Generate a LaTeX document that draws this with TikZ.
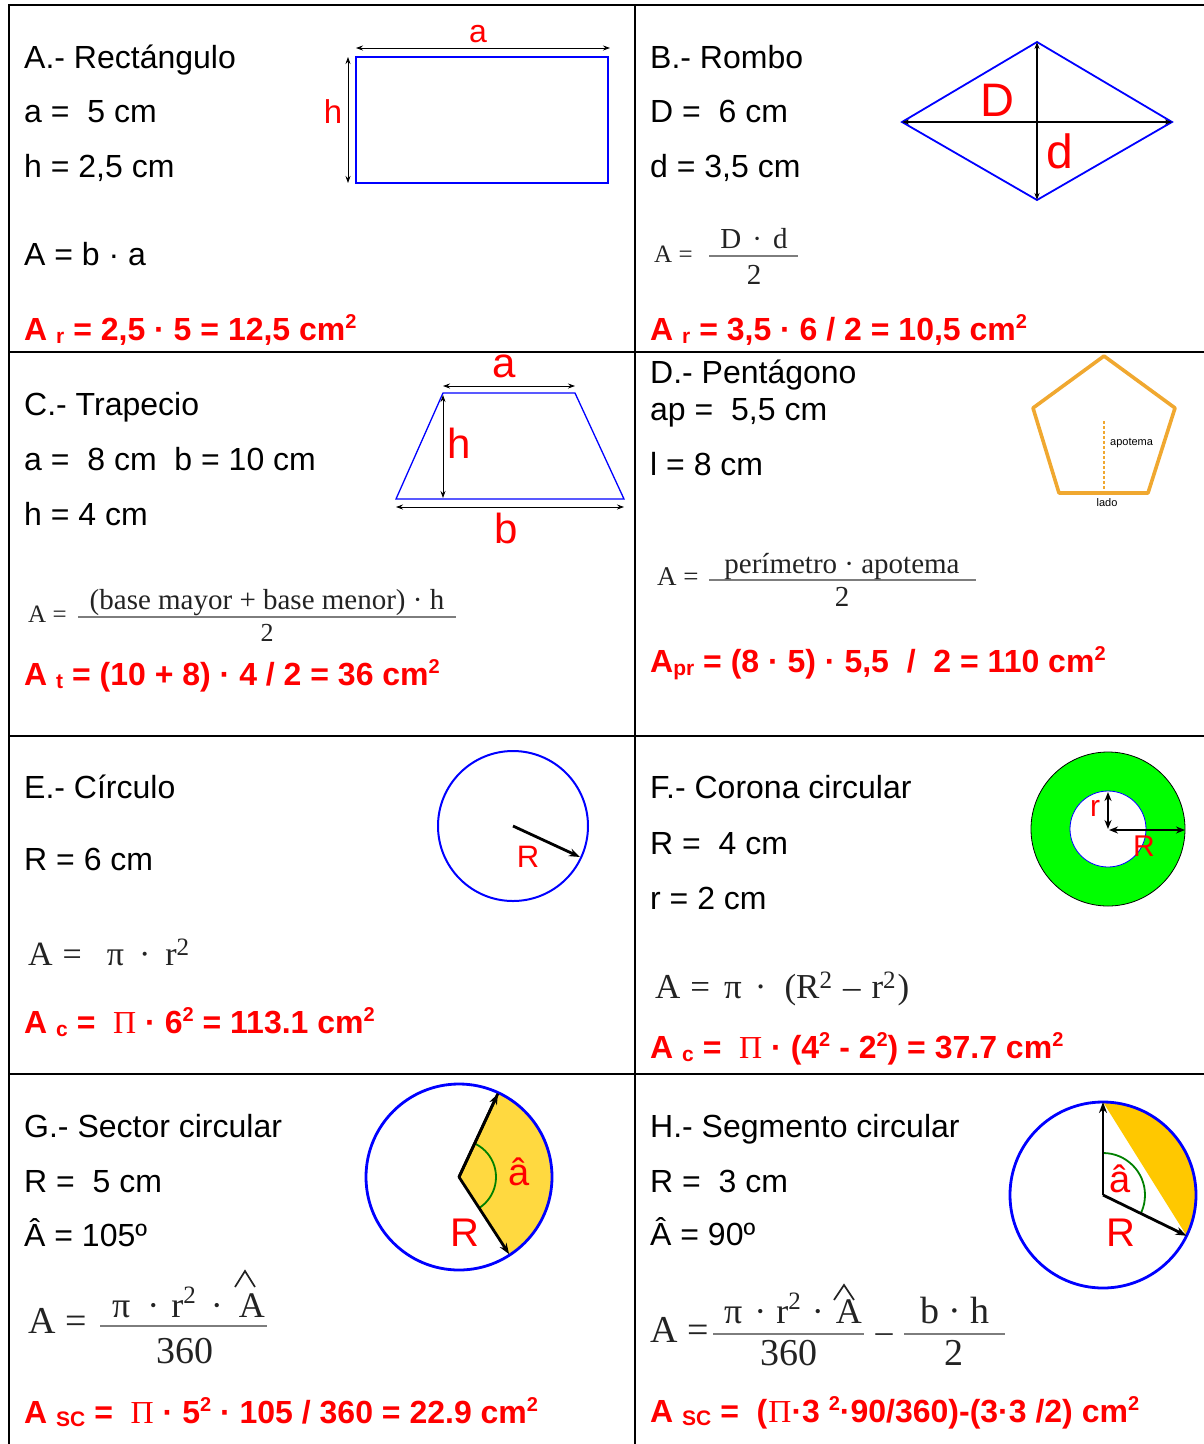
\documentclass[tikz,border=0pt]{standalone}
\usepackage{fontspec}
\setmainfont{Liberation Sans}
\newfontfamily\serifrm{Liberation Serif}
\usetikzlibrary{arrows.meta,calc}
\definecolor{cblue}{RGB}{0,0,255}
\definecolor{cred}{RGB}{255,0,0}
\definecolor{corange}{RGB}{240,168,48}
\definecolor{cyelG}{RGB}{255,217,64}
\definecolor{cyelH}{RGB}{255,200,0}
\definecolor{cgreen}{RGB}{0,255,0}
\definecolor{carc}{RGB}{0,128,0}
\definecolor{cbar}{RGB}{125,125,125}
\definecolor{cform}{RGB}{35,35,35}
\newcommand\fsz[1]{\fontsize{#1}{#1}\selectfont}
\newcommand\mysub[1]{\raisebox{-3pt}{\fsz{21}#1}}
\newcommand\mysup[1]{\raisebox{12pt}{\fsz{20}#1}}
\newcommand\fsup[2]{\raisebox{#1}{\fsz{25}#2}}
\tikzset{
  body/.style={anchor=base west, inner sep=0pt, font=\fsz{32}},
  res/.style={anchor=base west, inner sep=0pt, text=cred, font=\bfseries\fsz{32}},
  fml/.style={inner sep=0pt, text=cform, font=\serifrm\fsz{27}},
  lbl/.style={inner sep=0pt, text=cred},
  dim/.style={{Stealth[length=7pt,width=5pt]}-{Stealth[length=7pt,width=5pt]}, line width=0.8pt},
  dimthick/.style={{Stealth[length=9pt,width=7pt]}-{Stealth[length=9pt,width=7pt]}, line width=2pt},
  ray/.style={-{Stealth[length=11pt,width=8pt]}, line width=2.8pt},
  gridline/.style={line width=2.5pt},
  fbar/.style={line width=1.8pt, cbar},
}
\begin{document}
\begin{tikzpicture}[x=1pt,y=-1pt]
\useasboundingbox (0,0) rectangle (1204,1444);
% ---------- grid ----------
\coordinate (g1) at (9,5);   \coordinate (g2) at (1204,5);
\coordinate (g3) at (9,1444); \coordinate (g4) at (635,5); \coordinate (g5) at (635,1444);
\coordinate (h1a) at (9,352);  \coordinate (h1b) at (1204,352);
\coordinate (h2a) at (9,736);  \coordinate (h2b) at (1204,736);
\coordinate (h3a) at (9,1074); \coordinate (h3b) at (1204,1074);
\draw[gridline] (g3) -- (g1) -- (g2);
\draw[gridline] (g4) -- (g5);
\draw[gridline] (h1a) -- (h1b);
\draw[gridline] (h2a) -- (h2b);
\draw[gridline] (h3a) -- (h3b);

% ---------- A: Rectangulo ----------
\node[body] (At) at (24,68) {A.- Rectángulo};
\node[body] (Aa) at (24,122) {a = \ 5 cm};
\node[body] (Ah) at (24,177) {h = 2,5 cm};
\node[body] (Af) at (24,265) {A = b · a};
\node[res]  (Ar) at (24,340) {A \mysub{r} = 2,5 · 5 = 12,5 cm\mysup{2}};
\node[draw=cblue, line width=1.3pt, minimum width=252pt, minimum height=126pt, inner sep=0pt] (rect) at (482,120) {};
\coordinate (Aa1) at (356,48); \coordinate (Aa2) at (610,48);
\draw[dim] (Aa1) -- (Aa2);
\coordinate (Ah1) at (348,57); \coordinate (Ah2) at (348,183);
\draw[dim] (Ah1) -- (Ah2);
\node[lbl, font=\fsz{32}] (Ala) at (478,34) {a};
\node[lbl, font=\fsz{33}] (Alh) at (333,112) {h};

% ---------- B: Rombo ----------
\node[body] (Bt) at (650,68) {B.- Rombo};
\node[body] (Bd1) at (650,122) {D = \ 6 cm};
\node[body] (Bd2) at (650,177) {d = 3,5 cm};
\node[fml, anchor=base west, font=\serifrm\fsz{25}] (BA) at (654,262) {A =};
\coordinate (Bb1) at (709,256); \coordinate (Bb2) at (798,256);
\draw[fbar] (Bb1) -- (Bb2);
\node[fml, anchor=base, font=\serifrm\fsz{29}] (Bn) at (754,248) {D\hspace{11pt}·\hspace{11pt}d};
\node[fml, anchor=base, font=\serifrm\fsz{29}] (Bdn) at (754,284) {2};
\node[res] (Br) at (650,340) {A \mysub{r} = 3,5 · 6 / 2 = 10,5 cm\mysup{2}};
\coordinate (BL) at (902,122); \coordinate (BT) at (1037,42);
\coordinate (BR) at (1172,122); \coordinate (BB) at (1037,200);
\draw[cblue, line width=1.8pt] (BL) -- (BT) -- (BR) -- (BB) -- cycle;
\draw[dim, line width=1.1pt] (BL) -- (BR);
\draw[dim, line width=1.1pt] (BT) -- (BB);
\node[lbl, font=\fsz{47}] (BlD) at (997,100) {D};
\node[lbl, font=\fsz{48}] (Bld) at (1060,151) {d};

% ---------- C: Trapecio ----------
\node[body] (Ct) at (24,415) {C.- Trapecio};
\node[body] (Cab) at (24,470) {a = \ 8 cm \ b = 10 cm};
\node[body] (Ch) at (24,525) {h = 4 cm};
\node[fml, anchor=base west, font=\serifrm\fsz{25}] (CA) at (28,622) {A =};
\coordinate (Cb1) at (78,617); \coordinate (Cb2) at (456,617);
\draw[fbar] (Cb1) -- (Cb2);
\node[fml, anchor=base, font=\serifrm\fsz{29}] (Cn) at (267,609) {(base mayor + base menor) · h};
\node[fml, anchor=base, font=\serifrm\fsz{26}] (Cdn) at (267,641) {2};
\node[res] (Cr) at (24,685) {A \mysub{t} = (10 + 8) · 4 / 2 = 36 cm\mysup{2}};
\coordinate (CTL) at (443,393); \coordinate (CTR) at (575,393);
\coordinate (CBR) at (624,499); \coordinate (CBL) at (396,499);
\draw[cblue, line width=1.3pt] (CTL) -- (CTR) -- (CBR) -- (CBL) -- cycle;
\coordinate (Ca1) at (443,386); \coordinate (Ca2) at (575,386);
\draw[dim] (Ca1) -- (Ca2);
\coordinate (Ch1) at (443,395); \coordinate (Ch2) at (443,498);
\draw[dim] (Ch1) -- (Ch2);
\coordinate (Cc1) at (396,507); \coordinate (Cc2) at (624,507);
\draw[dim] (Cc1) -- (Cc2);
\node[lbl, font=\fsz{42}] (Cla) at (504,366) {a};
\node[lbl, font=\fsz{42}] (Clh) at (459,443) {h};
\node[lbl, font=\fsz{42}] (Clb) at (506,528) {b};

% ---------- D: Pentagono ----------
\node[body] (Dt) at (650,383) {D.- Pentágono};
\node[body] (Dap) at (650,420) {ap = \ 5,5 cm};
\node[body] (Dl) at (650,475) {l = 8 cm};
\node[fml, anchor=base west, font=\serifrm\fsz{27}] (DA) at (657,585) {A =};
\coordinate (Db1) at (709,580); \coordinate (Db2) at (976,580);
\draw[fbar] (Db1) -- (Db2);
\node[fml, anchor=base, font=\serifrm\fsz{29}] (Dn) at (842,573) {perímetro · apotema};
\node[fml, anchor=base, font=\serifrm\fsz{29}] (Ddn) at (842,606) {2};
\node[res] (Dr) at (650,672) {A\mysub{pr} = (8 · 5) · 5,5 \ / \ 2 = 110 cm\mysup{2}};
\coordinate (P1) at (1104,356); \coordinate (P2) at (1175,408);
\coordinate (P3) at (1148,493); \coordinate (P4) at (1059,493);
\coordinate (P5) at (1033,408);
\draw[corange, line width=3.6pt, line join=round] (P1) -- (P2) -- (P3) -- (P4) -- (P5) -- cycle;
\coordinate (Dap1) at (1104,421); \coordinate (Dap2) at (1104,491);
\draw[corange, line width=1.2pt, dash pattern=on 3pt off 2pt] (Dap1) -- (Dap2);
\node[anchor=base west, inner sep=0pt, font=\fsz{11}] (Dapt) at (1110,445) {apotema};
\node[anchor=base, inner sep=0pt, font=\fsz{11}] (Dlado) at (1107,506) {lado};

% ---------- E: Circulo ----------
\node[body] (Et) at (24,798) {E.- Círculo};
\node[body] (ER) at (24,870) {R = 6 cm};
\node[fml, anchor=base west, font=\serifrm\fsz{34}] (Ef) at (28,965) {A\hspace{10pt}=\hspace{25pt}π\hspace{15pt}·\hspace{15pt}r\fsup{10pt}{2}};
\node[res] (Er) at (24,1033) {A \mysub{c} = \ {\serifrm\mdseries Π} · 6\mysup{2} = 113.1 cm\mysup{2}};
\node[draw=cblue, circle, line width=2pt, minimum size=150pt, inner sep=0pt] (Ec) at (513,826) {};
\coordinate (Ee) at (580,857);
\draw[ray] (Ec.center) -- (Ee);
\node[lbl, font=\fsz{31}] (ElR) at (528,857) {R};

% ---------- F: Corona circular ----------
\node[body] (Ft) at (650,798) {F.- Corona circular};
\node[body] (FR) at (650,854) {R = \ 4 cm};
\node[body] (Fr) at (650,909) {r = 2 cm};
\node[fml, anchor=base west, font=\serifrm\fsz{35}] (Ff) at (655,998) {A\hspace{10pt}=\hspace{14pt}π\hspace{13pt}·\hspace{18pt}(R\fsup{10pt}{2}\hspace{11pt}–\hspace{11pt}r\fsup{10pt}{2}\hspace{2pt})};
\node[res] (Frr) at (650,1058) {A \mysub{c} = \ {\serifrm\mdseries Π} · (4\mysup{2} - 2\mysup{2}) = 37.7 cm\mysup{2}};
\node[draw=black, fill=cgreen, circle, line width=0.8pt, minimum size=154pt, inner sep=0pt] (Fout) at (1108,829) {};
\node[draw=cblue, fill=white, circle, line width=0.8pt, minimum size=76pt, inner sep=0pt] (Fin) at (1108,829) {};
\coordinate (Fr1) at (1108,792);
\draw[dimthick] (Fin.center) -- (Fr1);
\coordinate (FR0) at (1109,830); \coordinate (FR1) at (1185,830);
\draw[dimthick] (FR0) -- (FR1);
\node[lbl, font=\fsz{30}] (Flr) at (1095,808) {r};
\node[lbl, font=\fsz{30}] (FlR) at (1144,846) {R};

% ---------- G: Sector circular ----------
\node[body] (Gt) at (24,1137) {G.- Sector circular};
\node[body] (GR) at (24,1192) {R = \ 5 cm};
\node[body] (GA) at (24,1246) {Â = 105º};
\node[fml, anchor=base west, font=\serifrm\fsz{38}] (GAf) at (28,1333) {A =};
\coordinate (Gb1) at (100,1326); \coordinate (Gb2) at (267,1326);
\draw[fbar] (Gb1) -- (Gb2);
\node[fml, anchor=base west, font=\serifrm\fsz{36}] (Gn) at (112,1317) {π\hspace{17pt}·\hspace{12pt}r\fsup{14pt}{2}\hspace{15pt}·\hspace{16pt}A};
\coordinate (Gh1) at (235,1287); \coordinate (Gh2) at (245,1271); \coordinate (Gh3) at (255,1287);
\draw[cform, line width=1.7pt] (Gh1) -- (Gh2) -- (Gh3);
\node[fml, anchor=base, font=\serifrm\fsz{38}] (Gdn) at (185,1363) {360};
\node[res] (Gr) at (24,1423) {A \mysub{SC} = \ {\serifrm\mdseries Π} · 5\mysup{2} · 105 / 360 = 22.9 cm\mysup{2}};
\coordinate (GC) at (459,1177);
\begin{scope}
  \clip (GC) circle (93pt);
  \fill[cyelG] (GC) -- ($(GC)+(65:200pt)$) -- ($(GC)+(0:300pt)$) -- ($(GC)+(-57:200pt)$) -- cycle;
\end{scope}
\begin{scope}
  \clip (GC) -- ($(GC)+(65:200pt)$) -- ($(GC)+(0:300pt)$) -- ($(GC)+(-57:200pt)$) -- cycle;
  \draw[carc, line width=1.8pt] (GC) circle (37pt);
\end{scope}
\node[draw=cblue, circle, line width=2.8pt, minimum size=186pt, inner sep=0pt] (Gc) at (GC) {};
\coordinate (GP1) at ($(GC)+(65:92pt)$);
\coordinate (GP2) at ($(GC)+(-57:92pt)$);
\draw[ray, line join=round] (GP1) -- (GC) -- (GP2);
\draw[ray] (GC) -- (GP1);
\node[lbl, font=\fsz{38}] (Gla) at (519,1172) {â};
\node[lbl, font=\fsz{40}] (GlR) at (465,1233) {R};

% ---------- H: Segmento circular ----------
\node[body] (Ht) at (650,1137) {H.- Segmento circular};
\node[body] (HR) at (650,1192) {R = \ 3 cm};
\node[body] (HA) at (650,1245) {Â = 90º};
\node[fml, anchor=base west, font=\serifrm\fsz{38}] (HAf) at (650,1342) {A =};
\coordinate (Hb1) at (713,1334); \coordinate (Hb2) at (864,1334);
\draw[fbar] (Hb1) -- (Hb2);
\node[fml, anchor=base west, font=\serifrm\fsz{36}] (Hn) at (724,1323) {π\hspace{12pt}·\hspace{10pt}r\fsup{14pt}{2}\hspace{11pt}·\hspace{12pt}A};
\coordinate (Hh1) at (834,1300); \coordinate (Hh2) at (844,1285); \coordinate (Hh3) at (854,1300);
\draw[cform, line width=1.7pt] (Hh1) -- (Hh2) -- (Hh3);
\node[fml, anchor=base, font=\serifrm\fsz{38}] (Hdn) at (789,1365) {360};
\node[fml, anchor=base, font=\serifrm\fsz{34}] (Hmin) at (884,1342) {–};
\coordinate (Hc1) at (904,1334); \coordinate (Hc2) at (1005,1334);
\draw[fbar] (Hc1) -- (Hc2);
\node[fml, anchor=base, font=\serifrm\fsz{38}] (Hn2) at (955,1323) {b\hspace{9pt}·\hspace{9pt}h};
\node[fml, anchor=base, font=\serifrm\fsz{38}] (Hdn2) at (954,1365) {2};
\node[res] (Hr) at (650,1422) {A \mysub{SC} = \ (\kern1pt{\serifrm\mdseries Π}·3 \mysup{2}·90/360)-(3·3 /2) cm\mysup{2}};
\coordinate (HC) at (1103,1195);
\coordinate (HP1) at ($(HC)+(90:93pt)$);
\coordinate (HP2) at ($(HC)+(-26:93pt)$);
\begin{scope}
  \clip (HC) circle (93pt);
  \fill[cyelH] ($(HP1)!-0.3!(HP2)$) -- ($(HP2)!-0.3!(HP1)$) -- ++(150pt,0pt) -- ++(0pt,250pt) -- cycle;
\end{scope}
\begin{scope}
  \clip (HC) -- ($(HC)+(90:200pt)$) -- ($(HC)+(30:300pt)$) -- ($(HC)+(-26:200pt)$) -- cycle;
  \draw[carc, line width=1.8pt] (HC) circle (42pt);
\end{scope}
\node[draw=cblue, circle, line width=2.8pt, minimum size=186pt, inner sep=0pt] (Hc) at (HC) {};
\draw[ray] (HC) -- (HP1);
\draw[ray] (HC) -- (HP2);
\node[lbl, font=\fsz{38}] (Hla) at (1120,1179) {â};
\node[lbl, font=\fsz{40}] (HlR) at (1121,1233) {R};
\end{tikzpicture}
\end{document}
